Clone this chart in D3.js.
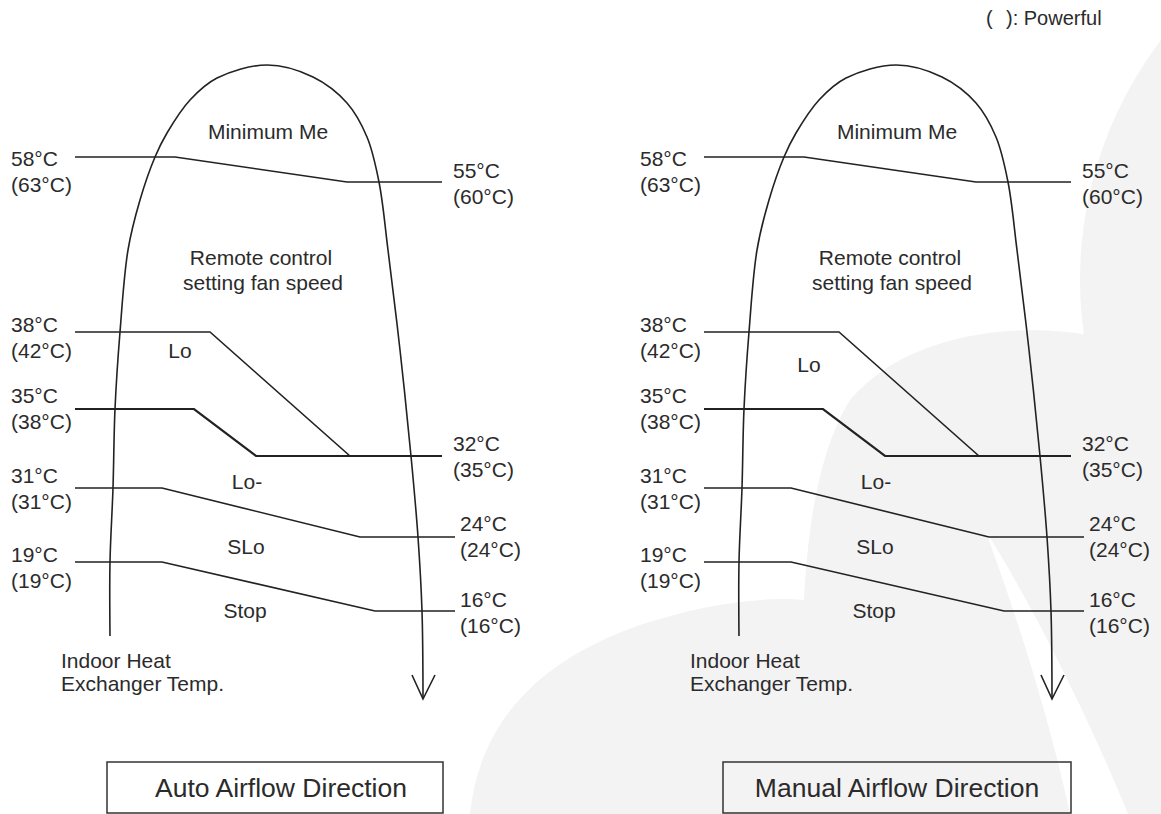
<!DOCTYPE html>
<html>
<head>
<meta charset="utf-8">
<script src="https://cdn.jsdelivr.net/npm/d3@7"></script>
<style>
  body { margin: 0; background: #fff; }
  text { font-family: "Liberation Sans", Arial, sans-serif; fill: #2b2b2b; }
</style>
</head>
<body>
<div id="viz"></div>
<script>
// data: switching temperatures (normal / powerful) for each row of the diagram
const leftTemps = [58, 38, 35, 31, 19];
const leftPowerful = [63, 42, 38, 31, 19];
const rightTemps = [55, 32, 32, 24, 16];
const rightPowerful = [60, 35, 35, 24, 16];
const zoneNames = ["Minimum Me", "Lo", "Lo-", "SLo", "Stop"];
const panelTitles = ["Auto Airflow Direction", "Manual Airflow Direction"];

// layout (pixels)
const W = 1161, H = 814;
const lineStartX = 75;
const bendX = [[175, 347], [210, 350], [194, 256], [162, 360], [162, 375]];
const lineEndX = [442, 442, 442, 455, 455];
const lineWidth = [1.6, 1.6, 2.2, 1.6, 1.6];
const leftLabelDy = [9, 0, -6, -5, 0];
const rightLabelX = [453, 453, 453, 460, 460];
const rightLabelDy = [-4, -5, -5, -6, -4];
const zoneXY = [[268, 139], [180, 358], [247, 489], [246, 554], [245, 618]];

const svg = d3.select("#viz").append("svg")
  .attr("width", W).attr("height", H);

// temperature -> vertical position (piecewise, the diagram is not to scale)
const y = d3.scaleLinear()
  .domain([16, 19, 24, 31, 32, 35, 38, 55, 58])
  .range([611, 562, 537, 488, 456, 409, 332, 182, 157]);

// horizontal offset of each panel
const panelX = d3.scalePoint().domain(panelTitles).range([0, 629]);

// faint watermark in the background
const wm = svg.append("g").attr("fill", "#f3f3f3");
wm.append("circle").attr("cx", 1476).attr("cy", 280).attr("r", 396);
wm.append("path")
  .attr("d", "M808,814 C796,640 800,480 850,400 C900,340 1000,320 1090,335 C1120,340 1150,350 1161,356 L1161,814 Z");
wm.append("path")
  .attr("d", "M470,814 C480,720 540,660 640,625 C700,605 760,596 805,600 L812,814 Z");
wm.append("path").attr("fill", "#fff")
  .attr("d", "M985,530 C1030,600 1090,720 1128,814 L1070,814 C1050,720 1015,610 985,530 Z");

const domePts = [[110, 636], [110, 562], [113, 488], [115, 409], [120, 332], [128, 250], [140, 200],
  [155, 157], [167, 133], [190, 100], [217, 78], [267, 65], [313, 77], [347, 103], [367, 137],
  [379, 182], [388, 250], [400, 350], [411, 456], [418, 537], [422, 611], [423, 699]];

const line = d3.line();
const dome = d3.line().curve(d3.curveCatmullRom.alpha(0.5));

panelTitles.forEach((title, p) => {
  const g = svg.append("g")
    .attr("transform", `translate(${panelX(title)},0)`);

  // dome / arrow
  g.append("path")
    .attr("d", dome(domePts))
    .attr("fill", "none").attr("stroke", "#222").attr("stroke-width", 1.6);
  const tip = domePts[domePts.length - 1];
  g.append("path")
    .attr("d", line([[tip[0] - 11, tip[1] - 24], tip, [tip[0] + 12, tip[1] - 24]]))
    .attr("fill", "none").attr("stroke", "#222").attr("stroke-width", 1.6);

  // threshold lines
  g.selectAll(".thr")
    .data(leftTemps)
    .join("path")
    .attr("class", "thr")
    .attr("d", (d, i) => line([
      [lineStartX, y(d)], [bendX[i][0], y(d)],
      [bendX[i][1], y(rightTemps[i])], [lineEndX[i], y(rightTemps[i])]
    ]))
    .attr("fill", "none").attr("stroke", "#222")
    .attr("stroke-width", (d, i) => lineWidth[i]);

  // left labels
  const lt = g.selectAll(".ltxt")
    .data(leftTemps)
    .join("text")
    .attr("class", "ltxt")
    .attr("x", 11)
    .attr("y", (d, i) => y(d) + leftLabelDy[i])
    .style("font-size", "21px");
  lt.append("tspan").text(d => `${d}°C`);
  lt.append("tspan").attr("x", 11).attr("dy", 25.5)
    .text((d, i) => `(${leftPowerful[i]}°C)`);

  // right labels (32 is shared by two rows)
  const rightRows = rightTemps.map((d, i) => i).filter((i) => i !== 1);
  const rt = g.selectAll(".rtxt")
    .data(rightRows)
    .join("text")
    .attr("class", "rtxt")
    .attr("x", i => rightLabelX[i])
    .attr("y", i => y(rightTemps[i]) + rightLabelDy[i])
    .style("font-size", "21px");
  rt.append("tspan").text(i => `${rightTemps[i]}°C`);
  rt.append("tspan").attr("x", i => rightLabelX[i]).attr("dy", 25.5)
    .text(i => `(${rightPowerful[i]}°C)`);

  // zone names
  g.selectAll(".zone")
    .data(zoneNames)
    .join("text")
    .attr("class", "zone")
    .attr("x", (d, i) => zoneXY[i][0])
    .attr("y", (d, i) => zoneXY[i][1] + (p === 1 && d === "Lo" ? 14 : 0))
    .attr("text-anchor", "middle")
    .style("font-size", "21px")
    .text(d => d);

  g.append("text").attr("x", 261).attr("y", 265).attr("text-anchor", "middle")
    .style("font-size", "21px").text("Remote control");
  g.append("text").attr("x", 263).attr("y", 290).attr("text-anchor", "middle")
    .style("font-size", "21px").text("setting fan speed");

  g.append("text").attr("x", 61).attr("y", 668)
    .style("font-size", "21px").text("Indoor Heat");
  g.append("text").attr("x", 61).attr("y", 691)
    .style("font-size", "21px").text("Exchanger Temp.");
});

// title boxes
const boxX = [[107, 443], [723, 1071]];
const boxes = svg.selectAll(".box")
  .data(panelTitles)
  .join("g")
  .attr("class", "box");
boxes.append("rect")
  .attr("x", (d, i) => boxX[i][0])
  .attr("y", 762)
  .attr("width", (d, i) => boxX[i][1] - boxX[i][0])
  .attr("height", 51)
  .attr("fill", "none").attr("stroke", "#333").attr("stroke-width", 1.5);
boxes.append("text")
  .attr("x", (d, i) => (boxX[i][0] + boxX[i][1]) / 2 + (i === 0 ? 6 : 0))
  .attr("y", 797)
  .attr("text-anchor", "middle")
  .style("font-size", "26.5px")
  .text(d => d);

// legend note
svg.append("text").attr("x", 986).attr("y", 25).style("font-size", "20px").text("(");
svg.append("text").attr("x", 1006).attr("y", 25).style("font-size", "20px").text("): Powerful");
</script>
</body>
</html>
